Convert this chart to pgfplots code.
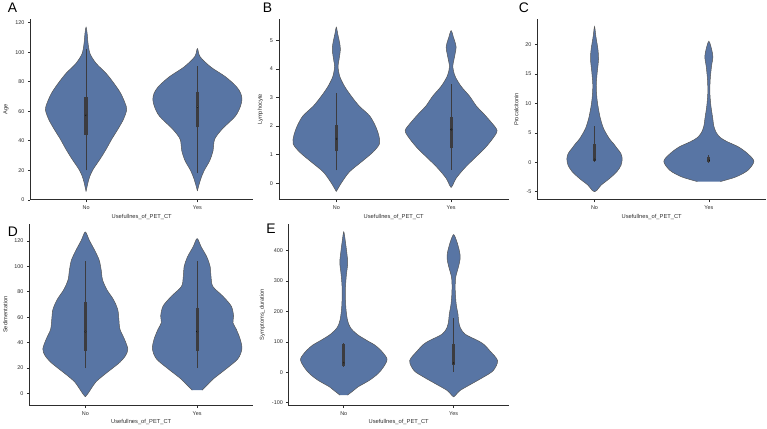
\documentclass[border=0pt]{standalone}
\usepackage{fontspec}
\setmainfont{Liberation Sans}
\usepackage{pgfplots}
\usepackage{pgfplotstable}
\pgfplotsset{compat=1.18}

\definecolor{vcol}{RGB}{88,117,164}
\definecolor{edgecol}{RGB}{85,85,85}
\definecolor{boxcol}{RGB}{60,60,64}
\definecolor{axcol}{RGB}{45,45,45}

% ---- violin outlines: y value, half width (category units), side ----
\pgfplotstableread{
y w s
5.6 0 1
11.9 0.018 1
16.3 0.036 1
20.8 0.065 1
27.5 0.125 1
34.2 0.18 1
41 0.23 1
47.7 0.285 1
54.4 0.335 1
61 0.365 1
65.6 0.35 1
72.3 0.31 1
79 0.25 1
85.7 0.18 1
92.5 0.09 1
99 0.036 1
106 0.018 1
112.6 0.01 1
117 0 1
112.6 0.01 -1
106 0.018 -1
99 0.036 -1
92.5 0.09 -1
85.7 0.18 -1
79 0.25 -1
72.3 0.31 -1
65.6 0.35 -1
61 0.365 -1
54.4 0.335 -1
47.7 0.285 -1
41 0.23 -1
34.2 0.18 -1
27.5 0.125 -1
20.8 0.065 -1
16.3 0.036 -1
11.9 0.018 -1
5.6 0 -1
}\tANo
\pgfplotstableread{
y w s
6.0 0 1
9.0 0.01 1
14.1 0.03 1
19.7 0.06 1
26.4 0.11 1
33.1 0.14 1
41 0.155 1
47.7 0.22 1
56.6 0.34 1
63 0.385 1
67.8 0.40 1
72 0.39 1
76.8 0.35 1
83.5 0.25 1
90 0.12 1
97 0.024 1
102.5 0 1
97 0.024 -1
90 0.12 -1
83.5 0.25 -1
76.8 0.35 -1
72 0.39 -1
67.8 0.40 -1
63 0.385 -1
56.6 0.34 -1
47.7 0.22 -1
41 0.155 -1
33.1 0.14 -1
26.4 0.11 -1
19.7 0.06 -1
14.1 0.03 -1
9.0 0.01 -1
6.0 0 -1
}\tAYes
\pgfplotstableread{
y w s
-0.29 0 1
-0.17 0.017 1
0.06 0.052 1
0.40 0.115 1
0.75 0.22 1
1.09 0.32 1
1.38 0.376 1
1.67 0.37 1
2.01 0.34 1
2.36 0.29 1
2.70 0.2 1
3.05 0.13 1
3.39 0.072 1
3.74 0.03 1
4.08 0.015 1
4.31 0.023 1
4.66 0.035 1
4.89 0.03 1
5.23 0.012 1
5.46 0 1
5.23 0.012 -1
4.89 0.03 -1
4.66 0.035 -1
4.31 0.023 -1
4.08 0.015 -1
3.74 0.03 -1
3.39 0.072 -1
3.05 0.13 -1
2.70 0.2 -1
2.36 0.29 -1
2.01 0.34 -1
1.67 0.37 -1
1.38 0.376 -1
1.09 0.32 -1
0.75 0.22 -1
0.40 0.115 -1
0.06 0.052 -1
-0.17 0.017 -1
-0.29 0 -1
}\tBNo
\pgfplotstableread{
y w s
-0.15 0 1
-0.06 0.015 1
0.17 0.043 1
0.52 0.115 1
0.86 0.2 1
1.21 0.29 1
1.55 0.36 1
1.84 0.40 1
2.13 0.35 1
2.47 0.275 1
2.70 0.22 1
3.05 0.16 1
3.39 0.087 1
3.74 0.035 1
4.08 0.015 1
4.43 0.03 1
4.77 0.043 1
5.11 0.02 1
5.34 0 1
5.11 0.02 -1
4.77 0.043 -1
4.43 0.03 -1
4.08 0.015 -1
3.74 0.035 -1
3.39 0.087 -1
3.05 0.16 -1
2.70 0.22 -1
2.47 0.275 -1
2.13 0.35 -1
1.84 0.40 -1
1.55 0.36 -1
1.21 0.29 -1
0.86 0.2 -1
0.52 0.115 -1
0.17 0.043 -1
-0.06 0.015 -1
-0.15 0 -1
}\tBYes
\pgfplotstableread{
y w s
-5.0 0 1
-4.8 0.02 1
-3.9 0.058 1
-2.8 0.13 1
-1.6 0.196 1
-0.5 0.232 1
0.6 0.242 1
1.5 0.23 1
2.3 0.2 1
3.2 0.165 1
4.0 0.13 1
5.7 0.08 1
7.4 0.052 1
9.0 0.035 1
10.7 0.022 1
13.0 0.015 1
15.2 0.023 1
17.5 0.035 1
19.2 0.03 1
21.4 0.012 1
23.1 0 1
21.4 0.012 -1
19.2 0.03 -1
17.5 0.035 -1
15.2 0.023 -1
13.0 0.015 -1
10.7 0.022 -1
9.0 0.035 -1
7.4 0.052 -1
5.7 0.08 -1
4.0 0.13 -1
3.2 0.165 -1
2.3 0.2 -1
1.5 0.23 -1
0.6 0.242 -1
-0.5 0.232 -1
-1.6 0.196 -1
-2.8 0.13 -1
-3.9 0.058 -1
-4.8 0.02 -1
-5.0 0 -1
}\tCNo
\pgfplotstableread{
y w s
-3.3 0.1 1
-2.5 0.237 1
-1.4 0.34 1
0.15 0.394 1
1.45 0.34 1
2.6 0.26 1
3.5 0.16 1
4.2 0.1 1
5.1 0.063 1
6.2 0.043 1
7.35 0.035 1
9.6 0.018 1
11.85 0.009 1
14.1 0.012 1
16.3 0.023 1
18.0 0.035 1
19.7 0.018 1
20.6 0 1
19.7 0.018 -1
18.0 0.035 -1
16.3 0.023 -1
14.1 0.012 -1
11.85 0.009 -1
9.6 0.018 -1
7.35 0.035 -1
6.2 0.043 -1
5.1 0.063 -1
4.2 0.1 -1
3.5 0.16 -1
2.6 0.26 -1
1.45 0.34 -1
0.15 0.394 -1
-1.4 0.34 -1
-2.5 0.237 -1
-3.3 0.1 -1
}\tCYes
\pgfplotstableread{
y w s
-2.6 0 1
0 0.024 1
3.9 0.053 1
9.1 0.095 1
14.3 0.163 1
19.4 0.237 1
24.6 0.31 1
29.8 0.36 1
35 0.38 1
42.7 0.35 1
50.5 0.31 1
58.3 0.30 1
66 0.29 1
73.8 0.252 1
81.6 0.193 1
89.4 0.154 1
97.1 0.142 1
104.9 0.124 1
112.7 0.083 1
120.4 0.036 1
127 0 1
120.4 0.036 -1
112.7 0.083 -1
104.9 0.124 -1
97.1 0.142 -1
89.4 0.154 -1
81.6 0.193 -1
73.8 0.252 -1
66 0.29 -1
58.3 0.30 -1
50.5 0.31 -1
42.7 0.35 -1
35 0.38 -1
29.8 0.36 -1
24.6 0.31 -1
19.4 0.237 -1
14.3 0.163 -1
9.1 0.095 -1
3.9 0.053 -1
0 0.024 -1
-2.6 0 -1
}\tDNo
\pgfplotstableread{
y w s
2.6 0.044 1
6.5 0.089 1
11.7 0.148 1
19.4 0.26 1
27.2 0.364 1
35 0.40 1
42.7 0.385 1
50.5 0.35 1
55.7 0.32 1
60.9 0.326 1
68.7 0.305 1
76.5 0.23 1
84.2 0.14 1
92 0.124 1
99.8 0.116 1
107.5 0.086 1
115.3 0.036 1
121.8 0 1
115.3 0.036 -1
107.5 0.086 -1
99.8 0.116 -1
92 0.124 -1
84.2 0.14 -1
76.5 0.23 -1
68.7 0.305 -1
60.9 0.326 -1
55.7 0.32 -1
50.5 0.35 -1
42.7 0.385 -1
35 0.40 -1
27.2 0.364 -1
19.4 0.26 -1
11.7 0.148 -1
6.5 0.089 -1
2.6 0.044 -1
}\tDYes
\pgfplotstableread{
y w s
-75.5 0.035 1
-60 0.09 1
-49 0.127 1
-27 0.233 1
-5.5 0.31 1
16 0.36 1
43 0.394 1
71 0.34 1
90 0.28 1
103 0.217 1
125 0.12 1
147 0.06 1
170 0.035 1
201 0.022 1
234 0.016 1
277 0.015 1
321 0.024 1
359 0.036 1
386 0.03 1
429 0.015 1
462 0 1
429 0.015 -1
386 0.03 -1
359 0.036 -1
321 0.024 -1
277 0.015 -1
234 0.016 -1
201 0.022 -1
170 0.035 -1
147 0.06 -1
125 0.12 -1
103 0.217 -1
90 0.28 -1
71 0.34 -1
43 0.394 -1
16 0.36 -1
-5.5 0.31 -1
-27 0.233 -1
-49 0.127 -1
-60 0.09 -1
-75.5 0.035 -1
}\tENo
\pgfplotstableread{
y w s
-81.6 0 1
-75 0.02 1
-60 0.06 1
-38 0.166 1
-16.6 0.27 1
5 0.36 1
38 0.40 1
70.5 0.33 1
90 0.28 1
103 0.226 1
125 0.105 1
147 0.06 1
170 0.045 1
190 0.04 1
223 0.024 1
266 0.015 1
310 0.018 1
348 0.045 1
375 0.06 1
397 0.054 1
429 0.03 1
453 0 1
429 0.03 -1
397 0.054 -1
375 0.06 -1
348 0.045 -1
310 0.018 -1
266 0.015 -1
223 0.024 -1
190 0.04 -1
170 0.045 -1
147 0.06 -1
125 0.105 -1
103 0.226 -1
90 0.28 -1
70.5 0.33 -1
38 0.40 -1
5 0.36 -1
-16.6 0.27 -1
-38 0.166 -1
-60 0.06 -1
-75 0.02 -1
-81.6 0 -1
}\tEYes

\newcommand{\violin}[2]{%
  \addplot[fill=vcol, draw=edgecol, line width=0.5bp, smooth] table[x expr=#1+\thisrow{s}*\thisrow{w}, y=y]{#2};
}
\newcommand{\ibox}[6]{%
  \addplot[line width=1.1bp, color=boxcol] coordinates {(#1,#2) (#1,#3)};
  \addplot[line width=3.2bp, color=boxcol] coordinates {(#1,#4) (#1,#5)};
  \addplot[only marks, mark=*, mark size=0.85bp, mark options={draw=none, fill=white}] coordinates {(#1,#6)};
}

\pgfplotsset{vstyle/.style={
  scale only axis,
  axis lines=left,
  axis line style={-, line width=0.8bp, draw=axcol},
  xmin=-0.5, xmax=1.5,
  xtick={0,1}, xticklabels={No,Yes},
  tick align=outside,
  major tick length=2.5bp,
  tick style={line width=0.6bp, draw=axcol},
  ticklabel style={font=\fontsize{5.5}{6.5}\selectfont, text=axcol},
  label style={font=\fontsize{5.8}{7}\selectfont, text=axcol},
  xlabel style={yshift=2.5bp},
  /pgf/number format/assume math mode=true,
  xlabel={Usefullnes\_of\_PET\_CT},
  anchor=south west,
}}

\begin{document}
\begin{tikzpicture}
\path (0,0) rectangle (767bp,428bp);

% A
\begin{axis}[vstyle, at={(26bp,227bp)}, width=224bp, height=182bp,
  ymin=0, ymax=122.6, ytick={0,20,40,60,80,100,120}, ylabel={Age}]
\violin{0}{\tANo}
\violin{1}{\tAYes}
\ibox{0}{20}{102}{44}{70}{57.5}
\ibox{1}{18}{91}{49}{73}{63}
\end{axis}

% B
\begin{axis}[vstyle, at={(276bp,227bp)}, width=231bp, height=182bp,
  ymin=-0.58, ymax=5.75, ytick={0,1,2,3,4,5}, ylabel={Lymphocyte}]
\violin{0}{\tBNo}
\violin{1}{\tBYes}
\ibox{0}{0.45}{3.15}{1.12}{2.02}{1.55}
\ibox{1}{0.48}{3.48}{1.22}{2.3}{1.88}
\end{axis}

% C
\begin{axis}[vstyle, at={(536bp,227bp)}, width=230bp, height=182bp,
  ymin=-6.4, ymax=24.4, ytick={-5,0,5,10,15,20}, ylabel={Procalcitonin}]
\violin{0}{\tCNo}
\violin{1}{\tCYes}
\ibox{0}{0.05}{6.2}{0.15}{3.1}{0.44}
\ibox{1}{-0.05}{1.2}{0.05}{0.9}{0.3}
\end{axis}

% D
\begin{axis}[vstyle, at={(25bp,20bp)}, width=225bp, height=183bp,
  ymin=-9.5, ymax=133.5, ytick={0,20,40,60,80,100,120}, ylabel={Sedimentation}]
\violin{0}{\tDNo}
\violin{1}{\tDYes}
\ibox{0}{20}{104.3}{33.7}{71.9}{48.6}
\ibox{1}{20}{104.3}{33.7}{67}{48.6}
\end{axis}

% E
\begin{axis}[vstyle, at={(286bp,20bp)}, width=221bp, height=183bp,
  ymin=-110, ymax=489, ytick={-100,0,100,200,300,400}, ylabel={Symptoms\_duration}]
\violin{0}{\tENo}
\violin{1}{\tEYes}
\ibox{0}{18}{95}{20}{92}{30}
\ibox{1}{2}{180}{23}{92}{30}
\end{axis}

\node[font=\fontsize{14}{16}\selectfont, inner sep=0] at (8bp,420bp) {A};
\node[font=\fontsize{14}{16}\selectfont, inner sep=0] at (264.5bp,420bp) {B};
\node[font=\fontsize{14}{16}\selectfont, inner sep=0] at (522.5bp,420bp) {C};
\node[font=\fontsize{14}{16}\selectfont, inner sep=0] at (8.5bp,195bp) {D};
\node[font=\fontsize{14}{16}\selectfont, inner sep=0] at (268bp,198bp) {E};
\end{tikzpicture}
\end{document}
